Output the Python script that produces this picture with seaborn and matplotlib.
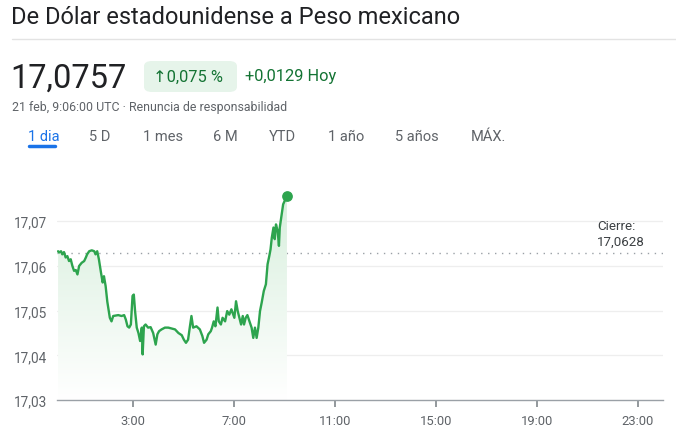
import matplotlib.pyplot as plt
import numpy as np
import seaborn as sns
from matplotlib.patches import FancyBboxPatch, Polygon

# minutes after midnight (UTC) and USD/MXN quote
minutes = [2, 4, 9, 12, 16, 20, 24, 28, 32, 36, 40, 44, 48, 52, 58, 64, 68,
           71, 76, 82, 88, 91, 95, 99, 104, 108, 111, 115, 119, 125, 129, 133,
           145, 153, 159, 163, 167, 171, 175, 179, 182, 185, 189, 193, 197,
           201, 203, 206, 210, 216, 222, 228, 234, 238, 242, 248, 256, 264,
           272, 280, 288, 296, 301, 306, 311, 315, 319, 323, 331, 339, 345,
           349, 355, 359, 365, 368, 372, 376, 381, 384, 389, 393, 399, 404,
           409, 414, 421, 425, 429, 433, 437, 441, 444, 448, 452, 458, 462,
           466, 470, 474, 478, 482, 486, 491, 496, 500, 504, 507, 510, 514,
           517, 520, 524, 527, 529, 533, 537, 546]
quote = [17.0633, 17.0630, 17.0633, 17.0626, 17.0631, 17.0619, 17.0622,
         17.0611, 17.0615, 17.0600, 17.0589, 17.0591, 17.0581, 17.0600,
         17.0607, 17.0611, 17.0619, 17.0626, 17.0633, 17.0635, 17.0633,
         17.0626, 17.0633, 17.0615, 17.0585, 17.0563, 17.0577, 17.0555,
         17.0520, 17.0484, 17.0476, 17.0488, 17.0490, 17.0488, 17.0490,
         17.0480, 17.0465, 17.0462, 17.0469, 17.0533, 17.0536, 17.0499,
         17.0462, 17.0450, 17.0432, 17.0462, 17.0402, 17.0465, 17.0469,
         17.0462, 17.0463, 17.0450, 17.0424, 17.0447, 17.0454, 17.0458,
         17.0462, 17.0462, 17.0460, 17.0458, 17.0450, 17.0445, 17.0435,
         17.0428, 17.0435, 17.0462, 17.0488, 17.0462, 17.0465, 17.0458,
         17.0443, 17.0428, 17.0435, 17.0447, 17.0454, 17.0462, 17.0476,
         17.0465, 17.0507, 17.0476, 17.0469, 17.0484, 17.0476, 17.0499,
         17.0491, 17.0503, 17.0484, 17.0521, 17.0499, 17.0484, 17.0469,
         17.0488, 17.0469, 17.0484, 17.0490, 17.0473, 17.0462, 17.0439,
         17.0462, 17.0439, 17.0462, 17.0499, 17.0518, 17.0544, 17.0559,
         17.0604, 17.0622, 17.0637, 17.0663, 17.0686, 17.0660, 17.0693,
         17.0678, 17.0645, 17.0686, 17.0712, 17.0738, 17.0757]
previous_close = 17.0628
y_ticks = [17.03, 17.04, 17.05, 17.06, 17.07]
x_ticks = [3, 7, 11, 15, 19, 23]
tabs = ["1 dia", "5 D", "1 mes", "6 M", "YTD", "1 año", "5 años", "MÁX."]
tab_x = [28, 89, 143, 213, 269, 328, 395, 471]

GREEN = "#2da44e"
DARK_GREEN = "#137333"
GRAY = "#5f6368"

sns.set_theme(style="white")
plt.rcParams["font.family"] = ["Roboto", "DejaVu Sans"]

W, H = 676, 439
fig = plt.figure(figsize=(W / 100, H / 100), dpi=100)


def fx(px):
    return px / W


def fy(py):
    return 1 - py / H


# header
fig.text(fx(11), fy(17), "De Dólar estadounidense a Peso mexicano",
         fontsize=17, color="#202124", va="center")
fig.add_artist(plt.Line2D([fx(12), 1], [fy(40), fy(40)], color="#e3e3e3", lw=1))
fig.text(fx(10), fy(79), "17,0757", fontsize=23.5, color="#202124", va="center")
fig.add_artist(FancyBboxPatch((fx(144), fy(93)), fx(93), fy(62) - fy(93),
                              boxstyle="round,pad=0,rounding_size=0.012",
                              transform=fig.transFigure, fc="#e6f4ea", ec="none"))
fig.text(fx(153), fy(77), "↑0,075 %", fontsize=11.8, color=DARK_GREEN, va="center")
fig.text(fx(245), fy(77), "+0,0129 Hoy", fontsize=11.8, color=DARK_GREEN, va="center")
fig.text(fx(12), fy(108), "21 feb, 9:06:00 UTC · Renuncia de responsabilidad",
         fontsize=8.9, color=GRAY, va="center")
for name, px in zip(tabs, tab_x):
    col = "#1a73e8" if name == "1 dia" else GRAY
    fig.text(fx(px), fy(137), name, fontsize=10.5, color=col, va="center")
fig.add_artist(plt.Line2D([fx(29), fx(55)], [fy(147), fy(147)],
                          color="#1a73e8", lw=2.5, solid_capstyle="round"))

# chart
ax = fig.add_axes([fx(57.25), fy(401), fx(663 - 57.25), fy(177.6) - fy(401)])
hours = np.array(minutes) / 60
vals = np.array(quote)
ax.set_xlim(0, 24)
ax.set_ylim(17.03, 17.08)

for t in y_ticks[1:]:
    ax.axhline(t, color="#eeeeee", lw=0.9, zorder=0)
ax.axhline(previous_close, color="#9aa0a6", lw=1, ls=(0, (1, 4)), zorder=1)

# gradient fill under the line
poly = Polygon(np.column_stack([np.r_[hours, hours[-1], hours[0]],
                                np.r_[vals, 17.03, 17.03]]),
               closed=True, fc="none", ec="none")
ax.add_patch(poly)
grad = np.linspace(1, 0, 256).reshape(-1, 1)
cmap = sns.blend_palette(["#ffffff", "#d8efdd"], as_cmap=True)
img = ax.imshow(grad, extent=[hours[0], hours[-1], 17.03, vals.max()],
                aspect="auto", cmap=cmap, origin="upper", zorder=1)
img.set_clip_path(poly)

sns.lineplot(x=hours, y=vals, ax=ax, color=GREEN, lw=1.7, zorder=3)
ax.scatter([hours[-1]], [vals[-1]], s=45, color=GREEN, zorder=4, clip_on=False)

ax.text(21.4, previous_close + 0.0012, "Cierre:\n17,0628", fontsize=9.6,
        color="#3c4043", va="bottom", linespacing=1.3)

ax.set_yticks(y_ticks)
ax.set_yticklabels([f"{t:.2f}".replace(".", ",") for t in y_ticks])
ax.set_xticks(x_ticks)
ax.set_xticklabels([f"{t}:00" for t in x_ticks])
ax.tick_params(axis="y", length=0, pad=7, labelsize=9.8, labelcolor=GRAY)
ax.tick_params(axis="x", length=5, width=1.2, color="#80868b", pad=5,
               labelsize=9.4, labelcolor=GRAY, bottom=True)
for s in ["top", "right", "left"]:
    ax.spines[s].set_visible(False)
ax.spines["bottom"].set_color("#9aa0a6")
ax.spines["bottom"].set_linewidth(1)
ax.set_facecolor("none")

fig.savefig("out.png", dpi=100)
